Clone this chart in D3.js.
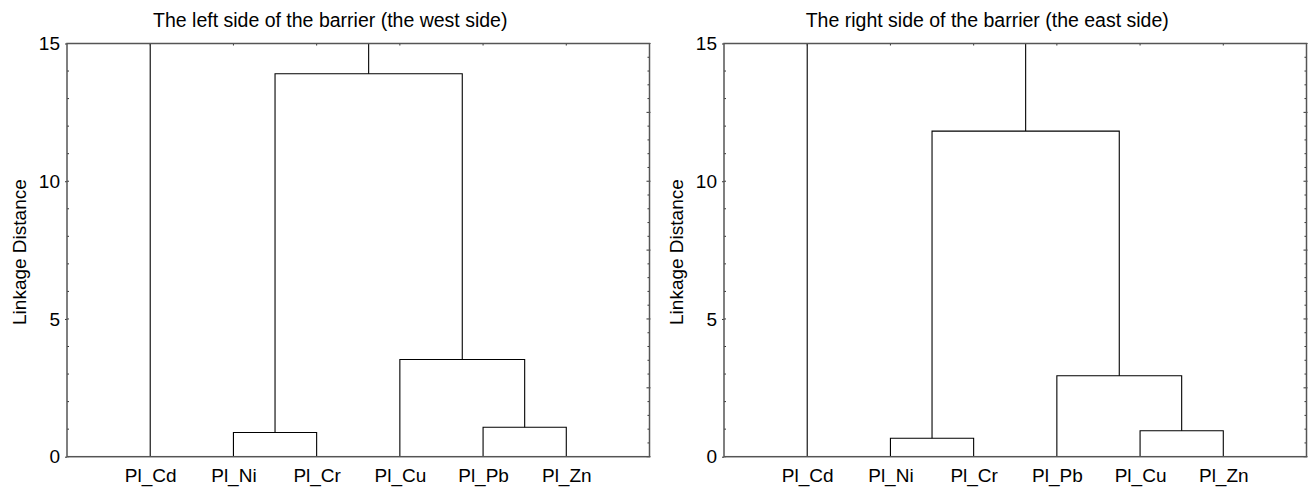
<!DOCTYPE html>
<html>
<head>
<meta charset="utf-8">
<script src="https://cdn.jsdelivr.net/npm/d3@7"></script>
<style>
  body { margin: 0; background: #fff; }
  text { font-family: "Liberation Sans", Arial, sans-serif; fill: #000; }
  .frame { fill: none; stroke: #555; stroke-width: 1.5; }
  .tick line { stroke: #333; }
  .link { fill: none; stroke: #000; stroke-width: 1.1; }
</style>
</head>
<body>
<div class="chart-container"></div>
<script>
// leaves in dendrogram order, per panel
var westLeaves = ['Pl_Cd', 'Pl_Ni', 'Pl_Cr', 'Pl_Cu', 'Pl_Pb', 'Pl_Zn'];
var eastLeaves = ['Pl_Cd', 'Pl_Ni', 'Pl_Cr', 'Pl_Pb', 'Pl_Cu', 'Pl_Zn'];

// merges: [left, right, linkage distance]; the last one sits above the plotted range
var westMerges = [
  ['Pl_Ni', 'Pl_Cr', 0.88],
  ['Pl_Pb', 'Pl_Zn', 1.07],
  ['Pl_Cu', 'PbZn', 3.53],
  ['NiCr', 'CuPbZn', 13.9],
  ['Pl_Cd', 'rest', 16]
];
var westNames = ['NiCr', 'PbZn', 'CuPbZn', 'rest', 'root'];

var eastMerges = [
  ['Pl_Ni', 'Pl_Cr', 0.67],
  ['Pl_Cu', 'Pl_Zn', 0.94],
  ['Pl_Pb', 'CuZn', 2.94],
  ['NiCr', 'PbCuZn', 11.82],
  ['Pl_Cd', 'rest', 16]
];
var eastNames = ['NiCr', 'CuZn', 'PbCuZn', 'rest', 'root'];

var yTicks = [0, 5, 10, 15];

var width = 1312, height = 488;
var plotTop = 43.5, plotBottom = 456.7, plotWidth = 582.5;

var svg = d3.select('.chart-container').append('svg')
  .attr('width', width)
  .attr('height', height);

function drawPanel(left, title, leaves, merges, names, clipId) {
  var g = svg.append('g');
  var x = d3.scaleLinear().domain([0, leaves.length + 1]).range([left, left + plotWidth]);
  var y = d3.scaleLinear().domain([0, 15]).range([plotBottom, plotTop]);

  g.append('clipPath').attr('id', clipId)
    .append('rect')
    .attr('x', left).attr('y', plotTop)
    .attr('width', plotWidth).attr('height', plotBottom - plotTop);

  // node positions
  var pos = {};
  leaves.forEach((d, i) => { pos[d] = {x: x(i + 1), h: 0}; });
  merges.forEach((m, i) => {
    var a = pos[m[0]], b = pos[m[1]];
    pos[names[i]] = {x: (a.x + b.x) / 2, h: m[2]};
  });

  var links = g.append('g').attr('clip-path', `url(#${clipId})`);
  links.selectAll('path')
    .data(merges)
    .enter().append('path')
    .attr('class', 'link')
    .attr('d', m => {
      var a = pos[m[0]], b = pos[m[1]], h = y(m[2]);
      return `M${a.x},${y(a.h)}V${h}H${b.x}V${y(b.h)}`;
    });

  // axes
  var yAxis = d3.axisLeft(y).tickValues(yTicks).tickSize(2).tickPadding(5);
  var gY = g.append('g')
    .attr('transform', `translate(${left},0)`)
    .call(yAxis);
  gY.select('.domain').remove();
  gY.selectAll('text').style('font-size', '19px');

  // minor ticks, left side
  g.append('g').selectAll('line')
    .data(d3.range(0, 15.01, 1))
    .enter().append('line')
    .attr('x1', left).attr('x2', left + 2)
    .attr('y1', d => y(d)).attr('y2', d => y(d))
    .attr('stroke', '#333');

  // right side ticks
  g.append('g').selectAll('line')
    .data(d3.range(0, 15.01, 0.5))
    .enter().append('line')
    .attr('x1', d => left + plotWidth - (d % 2.5 === 0 ? 3 : 2))
    .attr('x2', d => left + plotWidth + (d % 2.5 === 0 ? 1 : 0))
    .attr('y1', d => y(d)).attr('y2', d => y(d))
    .attr('stroke', '#333');

  // top ticks at leaves
  g.append('g').selectAll('line')
    .data(leaves)
    .enter().append('line')
    .attr('x1', (d, i) => x(i + 1)).attr('x2', (d, i) => x(i + 1))
    .attr('y1', plotTop).attr('y2', plotTop + 2)
    .attr('stroke', '#333');

  var xAxis = d3.axisBottom(x).tickValues(d3.range(1, leaves.length + 1))
    .tickFormat(i => leaves[i - 1]).tickSize(0).tickPadding(12);
  var gX = g.append('g')
    .attr('transform', `translate(0,${plotBottom})`)
    .call(xAxis);
  gX.select('.domain').remove();
  gX.selectAll('text').style('font-size', '19px');

  g.append('rect')
    .attr('class', 'frame')
    .attr('x', left).attr('y', plotTop)
    .attr('width', plotWidth).attr('height', plotBottom - plotTop);

  // title sits a little left of the plot centre, as in the original
  g.append('text')
    .text(title)
    .attr('text-anchor', 'middle')
    .style('font-size', '19.5px')
    .attr('x', left + plotWidth / 2 - 28)
    .attr('y', 27);

  g.append('text')
    .text('Linkage Distance')
    .attr('text-anchor', 'middle')
    .style('font-size', '19px')
    .attr('transform', `translate(${left - 41},${(plotTop + plotBottom) / 2 + 2}) rotate(-90)`);
}

drawPanel(67, 'The left side of the barrier (the west side)', westLeaves, westMerges, westNames, 'clipW');
drawPanel(724, 'The right side of the barrier (the east side)', eastLeaves, eastMerges, eastNames, 'clipE');
</script>
</body>
</html>
